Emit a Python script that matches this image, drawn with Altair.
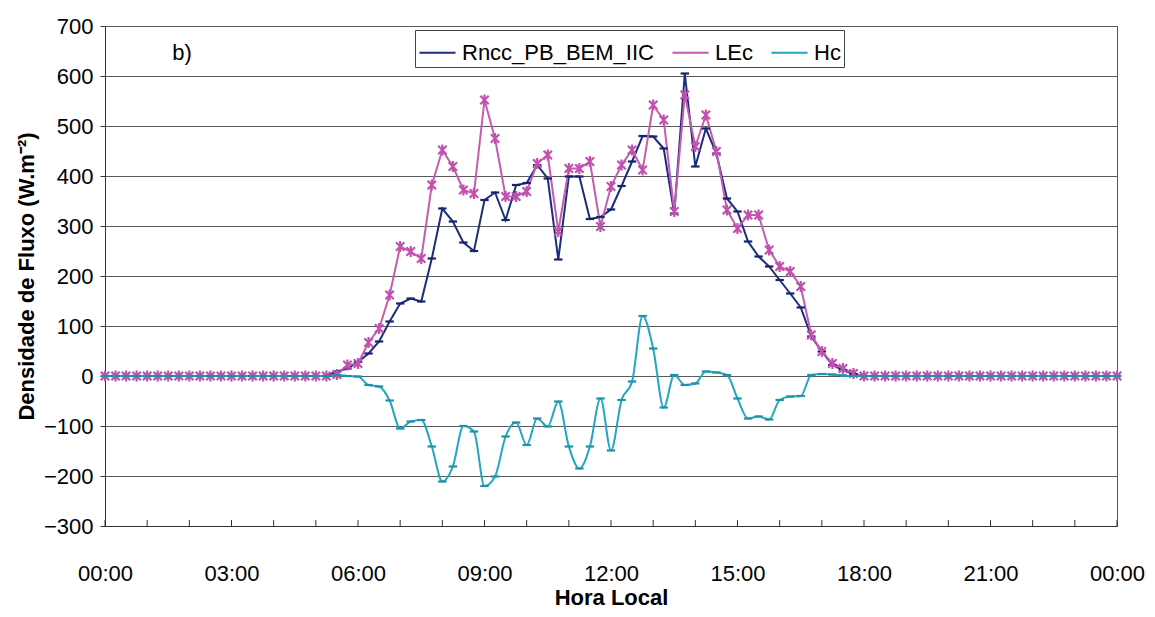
import altair as alt
import pandas as pd

# 15-minute sampling grid, 00:00 .. 24:00 (97 samples)
hours = [i * 0.25 for i in range(97)]

rn = [0] * 22 + [
    9, 15, 28, 45, 69, 109, 145, 155, 149, 235,
    335, 309, 267, 250, 352, 367, 312, 382, 386, 422,
    395, 233, 399, 399, 314, 318, 333, 380, 429, 480,
    479, 455, 325, 605, 419, 495, 445, 355, 329, 269,
    239, 219, 192, 165, 137, 79, 49, 22, 12, 4,
] + [0] * 25

lec = [0] * 22 + [
    3, 22, 25, 67, 95, 162, 259, 249, 235, 382,
    452, 419, 372, 365, 552, 475, 359, 359, 369, 425,
    442, 289, 415, 415, 429, 299, 379, 422, 452, 412,
    542, 512, 329, 562, 459, 522, 449, 332, 295, 322,
    322, 252, 219, 209, 179, 82, 49, 25, 15, 5,
] + [0] * 25

hc = [0] * 22 + [
    2, 0, -1, -18, -21, -49, -105, -91, -88, -141,
    -211, -181, -100, -111, -220, -201, -121, -93, -138, -85,
    -101, -51, -141, -185, -141, -45, -149, -48, -11, 120,
    55, -63, 2, -18, -15, 9, 7, 2, -45, -85,
    -81, -87, -48, -41, -40, 2, 4, 3, 1, 0,
] + [0] * 25

series_names = ["Rncc_PB_BEM_IIC", "LEc", "Hc"]
series_colors = ["#1d2c7c", "#c45cb2", "#22a7c0"]
x_label_hours = [0, 3, 6, 9, 12, 15, 18, 21, 24]
minor_tick_hours = list(range(25))
y_ticks = [-300, -200, -100, 0, 100, 200, 300, 400, 500, 600, 700]

rows = []
for name, vals in zip(series_names, [rn, lec, hc]):
    for h, v in zip(hours, vals):
        rows.append({"hora": h, "valor": v, "serie": name})
df = pd.DataFrame(rows)

FONT = "Liberation Sans"
W, H = 1012, 500

x_enc = alt.X(
    "hora:Q",
    scale=alt.Scale(domain=[0, 24], nice=False),
    axis=alt.Axis(
        values=x_label_hours,
        labelExpr="(datum.value % 24 < 10 ? '0' : '') + (datum.value % 24) + ':00'",
        labelFlush=False,
        labelOverlap=False,
        ticks=False,
        grid=False,
        domainColor="#333333",
        labelFont=FONT,
        labelFontSize=22,
        labelColor="black",
        labelPadding=37,
        title="Hora Local",
        titleFont=FONT,
        titleFontSize=22,
        titleFontWeight="bold",
        titleColor="black",
        titlePadding=3,
    ),
)
y_enc = alt.Y(
    "valor:Q",
    scale=alt.Scale(domain=[-300, 700], nice=False),
    axis=alt.Axis(
        values=y_ticks,
        grid=True,
        gridColor="#5a5a5a",
        gridWidth=1,
        domainColor="#333333",
        tickColor="#333333",
        tickSize=5,
        labelFont=FONT,
        labelFontSize=22,
        labelColor="black",
        labelPadding=7,
        title="Densidade de Fluxo (W.m⁻²)",
        titleFont=FONT,
        titleFontSize=22,
        titleFontWeight="bold",
        titleColor="black",
        titlePadding=5,
    ),
)
color_scale = alt.Scale(domain=series_names, range=series_colors)
color_enc = alt.Color(
    "serie:N",
    scale=color_scale,
    legend=alt.Legend(title=None, symbolType="stroke", labelLimit=0),
)

base = alt.Chart(df)

lines_main = base.transform_filter(
    alt.FieldOneOfPredicate(field="serie", oneOf=series_names[:2])
).mark_line(strokeWidth=2).encode(x=x_enc, y=y_enc, color=color_enc, detail="serie:N")

lines_hc = base.transform_filter(
    alt.FieldEqualPredicate(field="serie", equal=series_names[2])
).mark_line(strokeWidth=2, interpolate="monotone").encode(
    x="hora:Q", y="valor:Q", color=color_enc
)

dash = "M-1,0L1,0"
aster = "M-1,-1L1,1M-1,1L1,-1M0,-1.3L0,1.3"
marker_shapes = [dash, aster, dash]
marker_colors = ["#16246e", "#c052ae", "#1b93ab"]


def marker_layer(idx):
    return base.transform_filter(
        alt.FieldEqualPredicate(field="serie", equal=series_names[idx])
    ).mark_point(
        filled=False,
        strokeWidth=2.2,
        size=70,
        opacity=1,
        shape=marker_shapes[idx],
        color=marker_colors[idx],
    ).encode(x="hora:Q", y="valor:Q")


ticks_df = pd.DataFrame({"h": minor_tick_hours})
minor_ticks = alt.Chart(ticks_df).mark_rule(color="#333333", strokeWidth=1).encode(
    x="h:Q", y=alt.value(H - 6), y2=alt.value(H)
)

label_df = pd.DataFrame({"t": ["b)"]})
panel_label = alt.Chart(label_df).mark_text(
    font=FONT, fontSize=22, color="black", align="center", baseline="middle"
).encode(text="t:N", x=alt.value(77), y=alt.value(27))

chart = (
    alt.layer(
        minor_ticks,
        lines_main,
        lines_hc,
        marker_layer(0),
        marker_layer(1),
        marker_layer(2),
        panel_label,
    )
    .properties(
        width=W,
        height=H,
        autosize=alt.AutoSizeParams(type="none"),
        padding={"left": 97, "top": 18, "right": 28, "bottom": 84},
    )
    .configure_view(stroke="#555555", strokeWidth=1)
    .configure_legend(
        orient="none",
        legendX=310,
        legendY=4,
        direction="horizontal",
        fillColor="white",
        strokeColor="#444444",
        padding=3,
        labelFont=FONT,
        labelFontSize=22,
        labelColor="black",
        labelLimit=0,
        symbolType="stroke",
        symbolSize=1300,
        symbolStrokeWidth=2,
        columnPadding=14,
        labelOffset=5,
    )
)

chart.save("out.html", embed_options={"renderer": "svg", "actions": False})
